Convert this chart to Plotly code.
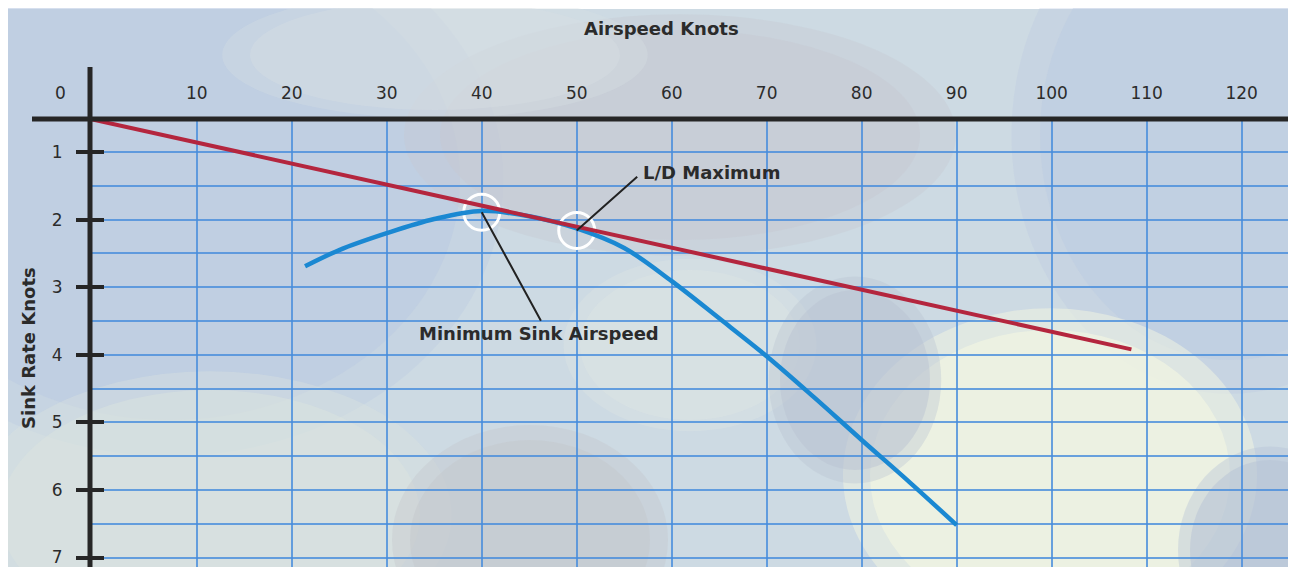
import plotly.graph_objects as go

# values (grid coordinates)
airspeed_ticks = [10, 20, 30, 40, 50, 60, 70, 80, 90, 100, 110, 120]
sink_ticks = [1, 2, 3, 4, 5, 6, 7]

polar_speed = [21.4, 25, 30, 35, 40, 45, 50, 55, 60, 65, 70, 75, 80, 85, 90]
polar_sink = [2.69, 2.45, 2.20, 1.99, 1.87, 1.95, 2.13, 2.42, 2.91, 3.46, 4.02, 4.63, 5.26, 5.88, 6.52]

tangent_speed = [-1.2, 108.4]
tangent_sink = [0.51, 3.92]

marked_speed = [40, 50]
marked_sink = [1.89, 2.16]

W, H = 1296, 567
OFF = 8  # page body margin around the plot div


def px(x):
    return (x - OFF) / W


def py(y):
    return 1 - (y - OFF) / H


font = "DejaVu Sans"
txt = "#2b2b2b"
grid = "rgba(70,140,220,0.8)"

fig = go.Figure()

fig.add_trace(go.Scatter(x=marked_speed, y=marked_sink, mode="markers",
                         marker=dict(symbol="circle-open", size=36, color="white", line=dict(width=3)),
                         showlegend=False, hoverinfo="skip"))
fig.add_trace(go.Scatter(x=polar_speed, y=polar_sink, mode="lines", line=dict(color="#1a88d2", width=4.5, shape="spline"),
                         showlegend=False))
fig.add_trace(go.Scatter(x=tangent_speed, y=tangent_sink, mode="lines", line=dict(color="#b4263e", width=4),
                         showlegend=False))
# empty trace so the overlay axis (inner half of the tick marks) is drawn
fig.add_trace(go.Scatter(x=[], y=[], yaxis="y2", showlegend=False, hoverinfo="skip"))

# sky background: base + soft cloud patches
shapes = [dict(type="rect", xref="paper", yref="paper", x0=px(7), x1=px(1291), y0=py(575), y1=py(9),
               fillcolor="#cddae3", line_width=0, layer="below")]
clouds = [
    (-120, -60, 460, 420, "#b6c6e2", 0.45),
    (1040, -90, 1420, 360, "#b8c8e2", 0.45),
    (440, 30, 920, 240, "#c6c9d1", 0.6),
    (250, 0, 620, 110, "#d6dfe3", 0.5),
    (0, 390, 420, 640, "#dde5de", 0.6),
    (580, 270, 800, 420, "#dfe5e4", 0.5),
    (870, 330, 1230, 620, "#f4f7e2", 0.85),
    (780, 290, 930, 470, "#b9c2d2", 0.6),
    (410, 440, 650, 640, "#c4c8cd", 0.65),
    (1190, 460, 1350, 640, "#b6c2d5", 0.65),
]
for x0, y0, x1, y1, c, op in clouds:
    cx, cy, rx, ry = (x0 + x1) / 2, (y0 + y1) / 2, (x1 - x0) / 2, (y1 - y0) / 2
    for k, f in ((1.15, 0.45), (1.0, 0.6)):
        shapes.append(dict(type="circle", xref="paper", yref="paper",
                           x0=px(cx - rx * k), x1=px(cx + rx * k), y0=py(cy + ry * k), y1=py(cy - ry * k),
                           fillcolor=c, opacity=op * f + 0.1, line_width=0, layer="below"))
# axis lines crossing at the origin corner
shapes.append(dict(type="line", xref="paper", yref="paper", x0=px(32), x1=px(1291), y0=py(119), y1=py(119),
                   line=dict(color="#262626", width=5), layer="above"))
shapes.append(dict(type="line", xref="paper", yref="paper", x0=px(90), x1=px(90), y0=py(567), y1=py(67),
                   line=dict(color="#262626", width=5), layer="above"))

annotations = [
    dict(text="Airspeed Knots", xref="paper", yref="paper", x=px(661), y=py(28), showarrow=False,
         xanchor="center", yanchor="middle", font=dict(family=font, size=18, color=txt, weight="bold")),
    dict(text="Sink Rate Knots", xref="paper", yref="paper", x=px(28), y=py(348), showarrow=False, textangle=-90,
         xanchor="center", yanchor="middle", font=dict(family=font, size=18, color=txt, weight="bold")),
    dict(text="0", xref="paper", yref="paper", x=px(60), y=py(93), showarrow=False,
         xanchor="center", yanchor="middle", font=dict(family=font, size=17, color=txt)),
    dict(text="", x=marked_speed[1], y=marked_sink[1], ax=62, ay=-55, showarrow=True, arrowhead=0,
         arrowwidth=2, arrowcolor="#222", standoff=0),
    dict(text="", x=marked_speed[0], y=marked_sink[0], ax=60, ay=110, showarrow=True, arrowhead=0,
         arrowwidth=2, arrowcolor="#222", standoff=0),
    dict(text="L/D Maximum", x=64.2, y=1.30, showarrow=False,
         font=dict(family=font, size=18, color=txt, weight="bold")),
    dict(text="Minimum Sink Airspeed", x=46.0, y=3.68, showarrow=False,
         font=dict(family=font, size=18, color=txt, weight="bold")),
]

fig.update_layout(
    width=W, height=H,
    margin=dict(l=0, r=0, t=0, b=0, pad=0),
    paper_bgcolor="white",
    plot_bgcolor="rgba(0,0,0,0)",
    shapes=shapes,
    annotations=annotations,
    xaxis=dict(domain=[px(90), px(1291)], range=[-1.24, 125.2], side="top", anchor="y",
               tickmode="array", tickvals=airspeed_ticks, ticks="", ticklabelstandoff=16,
               tickfont=dict(family=font, size=17, color=txt),
               showgrid=True, gridcolor=grid, gridwidth=1.5, zeroline=False, showline=False),
    yaxis=dict(domain=[py(567), py(119)], range=[7.14, 0.51], anchor="x",
               tickmode="linear", tick0=0, dtick=1, ticks="outside", ticklen=13, tickwidth=4, tickcolor="#262626",
               ticklabelstandoff=10, tickfont=dict(family=font, size=17, color=txt),
               showgrid=True, gridcolor=grid, gridwidth=1.5, zeroline=False, showline=False,
               minor=dict(tick0=0, dtick=0.5, showgrid=True, gridcolor=grid, gridwidth=1.5, ticks="")),
    yaxis2=dict(overlaying="y", anchor="x", side="left", range=[7.14, 0.51],
                tickmode="linear", tick0=0, dtick=1, ticks="inside", ticklen=14, tickwidth=4, tickcolor="#262626",
                showticklabels=False, showgrid=False, zeroline=False, showline=False),
    showlegend=False,
)

fig.write_html("out.html")
